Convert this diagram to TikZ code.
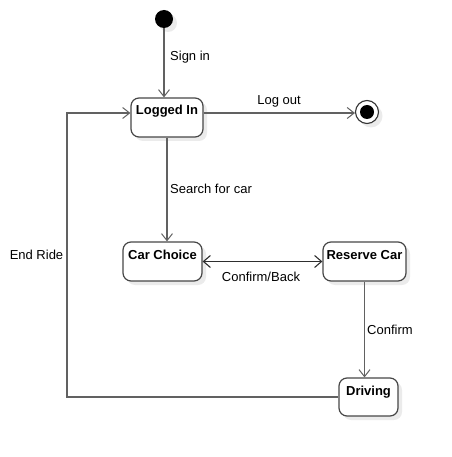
\documentclass[tikz,border=0pt]{standalone}
\usepackage{fontspec}
\setmainfont{Liberation Sans}
\usetikzlibrary{arrows.meta,shadows}
\begin{document}
\begin{tikzpicture}[x=1pt,y=-1pt,
  font=\fontsize{13}{15}\selectfont,
  line/.style={draw=black!62,line width=1.1pt},
  tip/.style={-{Straight Barb[length=7pt,width=11pt,line width=1pt]}},
  shad/.style={drop shadow={shadow xshift=4pt,shadow yshift=-4pt,fill=black!8,opacity=1}},
  statebox/.style={draw=black!72,line width=1.2pt,rounded corners=8pt,fill=white,shad,
    inner xsep=0pt,inner ysep=4pt,text height=13pt,text depth=18pt,font=\fontsize{13}{15}\selectfont\bfseries},
  lbl/.style={inner sep=0pt}]
\useasboundingbox (0,0) rectangle (451,457);
% states
\node[circle,fill=black,minimum size=18pt,inner sep=0pt,shad] (init) at (164,19) {};
\node[statebox,minimum width=72pt] (li) at (167,117.5) {Logged In};
\node[circle,draw=black!80,line width=1.1pt,fill=white,minimum size=23pt,inner sep=0pt,shad] (fin) at (367,112) {};
\node[circle,fill=black,minimum size=14pt,inner sep=0pt] (finin) at (fin) {};
\node[statebox,minimum width=79pt] (cc) at (162.5,261.5) {Car Choice};
\node[statebox,minimum width=83pt] (rc) at (364.5,261.5) {Reserve Car};
\node[statebox,minimum width=59pt,text depth=17pt] (dr) at (368.5,397) {Driving};
% corner points of End Ride
\coordinate (c1) at (67,397);
\coordinate (c2) at (67,113);
% transitions
\draw[line,tip] (init.south) -- (init.south |- li.north);
\draw[line,tip] (li.east |- 0,113) -- (fin.west |- 0,113);
\draw[line,tip] (li.south) -- (li.south |- cc.north);
\draw[draw=black!82,line width=1.6pt,{Straight Barb[length=7pt,width=12pt,line width=1.1pt]}-{Straight Barb[length=7pt,width=12pt,line width=1.1pt]}] (cc.east) -- (rc.west);
\draw[line,tip] (rc.south) -- (rc.south |- dr.north);
\draw[line,tip] (dr.west) -- (c1) -- (c2) -- (c2 -| li.west);
% labels
\node[lbl,anchor=west] (l1) at (170,57) {Sign in};
\node[lbl] (l2) at (279,101) {Log out};
\node[lbl,anchor=west] (l3) at (170,189) {Search for car};
\node[lbl] (l4) at (261,277) {Confirm/Back};
\node[lbl,anchor=west] (l5) at (367,330) {Confirm};
\node[lbl] (l6) at (36.5,255) {End Ride};
\end{tikzpicture}
\end{document}
